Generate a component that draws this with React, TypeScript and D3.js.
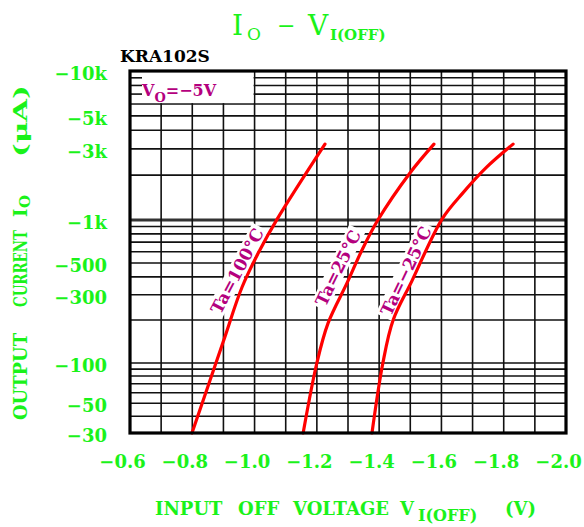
import React, { useEffect, useRef } from 'react';
import * as d3 from 'd3';

// axis values
const VOLTAGE_TICKS = [-0.6, -0.8, -1.0, -1.2, -1.4, -1.6, -1.8, -2.0];
const CURRENT_TICKS = [-10000, -5000, -3000, -1000, -500, -300, -100, -50, -30];
const CURRENT_LABELS = ['−10k', '−5k', '−3k', '−1k', '−500', '−300', '−100', '−50', '−30'];

// curves (V, µA)
const TA100_V = [-0.799, -0.899, -0.96, -1.017, -1.072, -1.226];
const TA100_I = [-30, -140, -340, -617, -1010, -3230];

const TA25_V = [-1.156, -1.2, -1.236, -1.297, -1.345, -1.396, -1.499, -1.576];
const TA25_I = [-30, -100, -190, -363, -617, -1000, -2070, -3230];

const TAM25_V = [-1.377, -1.412, -1.445, -1.505, -1.602, -1.669, -1.746, -1.83];
const TAM25_I = [-30, -100, -200, -374, -1015, -1520, -2270, -3230];

const SERIES = [
  { label: 'Ta=100°C', v: TA100_V, i: TA100_I, at: [-0.944, -440], angle: -62 },
  { label: 'Ta=25°C', v: TA25_V, i: TA25_I, at: [-1.268, -462], angle: -64 },
  { label: 'Ta=−25°C', v: TAM25_V, i: TAM25_I, at: [-1.486, -440], angle: -64.5 },
];

const GREEN = '#1af21a';
const MAGENTA = '#b4007e';
const FONT = '"DejaVu Serif", serif';

export default function App() {
  const svgRef = useRef<SVGSVGElement>(null);

  useEffect(() => {
    if (!svgRef.current) return;
    const svg = d3.select(svgRef.current);
    svg.selectAll('*').remove();

    const x = d3.scaleLinear().domain([-0.6, -2.0]).range([130, 566]);
    // log scale, one piece per decade so it follows the printed grid
    const y = d3.scaleLog().domain([-30, -100, -1000, -10000]).range([433, 363, 220, 71]);

    const [x0, x1] = x.range();
    const yBottom = y(-30);
    const yTop = y(-10000);

    // grid
    const grid = svg.append('g').attr('stroke', '#111');
    y.ticks().forEach(v => {
      const major = Math.abs(v) === 1000;
      grid.append('line')
        .attr('x1', x0).attr('x2', x1)
        .attr('y1', y(v)).attr('y2', y(v))
        .attr('stroke-width', major ? 3.2 : 1.6)
        .attr('stroke', major ? '#333' : '#111');
    });
    x.ticks(14).forEach(v => {
      grid.append('line')
        .attr('x1', x(v)).attr('x2', x(v))
        .attr('y1', yTop).attr('y2', yBottom)
        .attr('stroke-width', 1.6);
    });

    // V_O box in upper left
    const boxRight = x(-1.0) - 1;
    const boxBottom = y(-6000);
    svg.append('rect')
      .attr('x', x0).attr('y', yTop)
      .attr('width', boxRight - x0).attr('height', boxBottom - yTop - 1)
      .attr('fill', '#fff');
    y.ticks().filter(v => y(v) > yTop + 2 && y(v) < boxBottom - 2).forEach(v => {
      svg.append('line')
        .attr('x1', x0).attr('x2', x0 + 12)
        .attr('y1', y(v)).attr('y2', y(v))
        .attr('stroke', '#111').attr('stroke-width', 1.6);
    });
    const vo = svg.append('text')
      .attr('x', 142).attr('y', 96)
      .attr('font-family', FONT).attr('font-weight', 'bold')
      .attr('font-size', 16).attr('fill', MAGENTA);
    vo.append('tspan').text('V');
    vo.append('tspan').attr('font-size', 13).attr('dy', 6).text('O');
    vo.append('tspan').attr('dy', -6).text('=−5V');

    // curve labels with white backing
    SERIES.forEach(s => {
      const g = svg.append('g')
        .attr('transform', `translate(${x(s.at[0])},${y(s.at[1])}) rotate(${s.angle})`);
      const bg = g.append('rect').attr('fill', '#fff');
      const t = g.append('text')
        .attr('text-anchor', 'middle')
        .attr('dominant-baseline', 'central')
        .attr('font-family', FONT).attr('font-weight', 'bold')
        .attr('font-size', 17).attr('fill', MAGENTA)
        .text(s.label);
      const bb = (t.node() as SVGTextElement).getBBox();
      bg.attr('x', bb.x - 3).attr('y', bb.y + 1).attr('width', bb.width + 6).attr('height', bb.height - 2);
    });

    // curves
    const line = d3.line<[number, number]>()
      .x(d => x(d[0]))
      .y(d => y(d[1]))
      .curve(d3.curveCatmullRom.alpha(0.5));
    SERIES.forEach(s => {
      const pts = s.v.map((v, k) => [v, s.i[k]] as [number, number]);
      svg.append('path')
        .attr('d', line(pts))
        .attr('fill', 'none')
        .attr('stroke', '#ff0000')
        .attr('stroke-width', 3.2)
        .attr('stroke-linecap', 'round');
    });

    // frame
    svg.append('rect')
      .attr('x', x0).attr('y', yTop)
      .attr('width', x1 - x0).attr('height', yBottom - yTop)
      .attr('fill', 'none').attr('stroke', '#000').attr('stroke-width', 3.2);

    // tick labels
    VOLTAGE_TICKS.forEach(v => {
      svg.append('text')
        .attr('x', x(v) - 7.5).attr('y', 468)
        .attr('text-anchor', 'middle')
        .attr('font-family', FONT).attr('font-weight', 'bold')
        .attr('font-size', 18).attr('fill', GREEN)
        .text(v.toFixed(1).replace('-', '−'));
    });
    CURRENT_TICKS.forEach((v, k) => {
      svg.append('text')
        .attr('x', 107).attr('y', y(v) + 9)
        .attr('text-anchor', 'end')
        .attr('font-family', FONT).attr('font-weight', 'bold')
        .attr('font-size', 18).attr('fill', GREEN)
        .text(CURRENT_LABELS[k]);
    });

    // part number
    svg.append('text')
      .attr('x', 120).attr('y', 62)
      .attr('font-family', FONT).attr('font-weight', 'bold')
      .attr('font-size', 17).attr('fill', '#000')
      .text('KRA102S');

    // title
    const title = svg.append('g').attr('fill', GREEN).attr('font-family', FONT);
    title.append('text').attr('x', 232).attr('y', 35).attr('font-size', 28).text('I');
    title.append('text').attr('x', 247).attr('y', 40).attr('font-size', 17).text('O');
    title.append('text').attr('x', 277).attr('y', 33).attr('font-size', 22).text('−');
    title.append('text').attr('x', 308).attr('y', 35).attr('font-size', 28).text('V');
    title.append('text').attr('x', 330).attr('y', 40).attr('font-size', 15).attr('font-weight', 'bold').text('I(OFF)');

    // x axis title
    const xt = svg.append('g').attr('fill', GREEN).attr('font-family', FONT)
      .attr('font-weight', 'bold').attr('font-size', 18);
    xt.append('text').attr('x', 155).attr('y', 515).text('INPUT');
    xt.append('text').attr('x', 238).attr('y', 515).text('OFF');
    xt.append('text').attr('x', 293).attr('y', 515).text('VOLTAGE');
    xt.append('text').attr('x', 400).attr('y', 515).text('V');
    xt.append('text').attr('x', 418).attr('y', 521).attr('font-size', 16).text('I(OFF)');
    xt.append('text').attr('x', 505).attr('y', 515).text('(V)');

    // y axis title
    const yt = svg.append('g').attr('transform', 'translate(27,0) rotate(-90)')
      .attr('fill', GREEN).attr('font-family', FONT)
      .attr('font-weight', 'bold').attr('font-size', 18);
    yt.append('text').attr('x', -420).attr('y', 0)
      .attr('textLength', 87).attr('lengthAdjust', 'spacingAndGlyphs').text('OUTPUT');
    yt.append('text').attr('x', -307).attr('y', 0)
      .attr('textLength', 77).attr('lengthAdjust', 'spacingAndGlyphs').text('CURRENT');
    yt.append('text').attr('x', -217).attr('y', 0).text('I');
    yt.append('text').attr('x', -208).attr('y', 3).attr('font-size', 15).text('O');
    yt.append('text').attr('x', -157).attr('y', 0)
      .attr('textLength', 72).attr('lengthAdjust', 'spacingAndGlyphs').text('(μA)');
  }, []);

  return (
    <svg
      ref={svgRef}
      width={584}
      height={527}
      style={{ position: 'absolute', left: 0, top: 0, background: '#fff' }}
    />
  );
}
